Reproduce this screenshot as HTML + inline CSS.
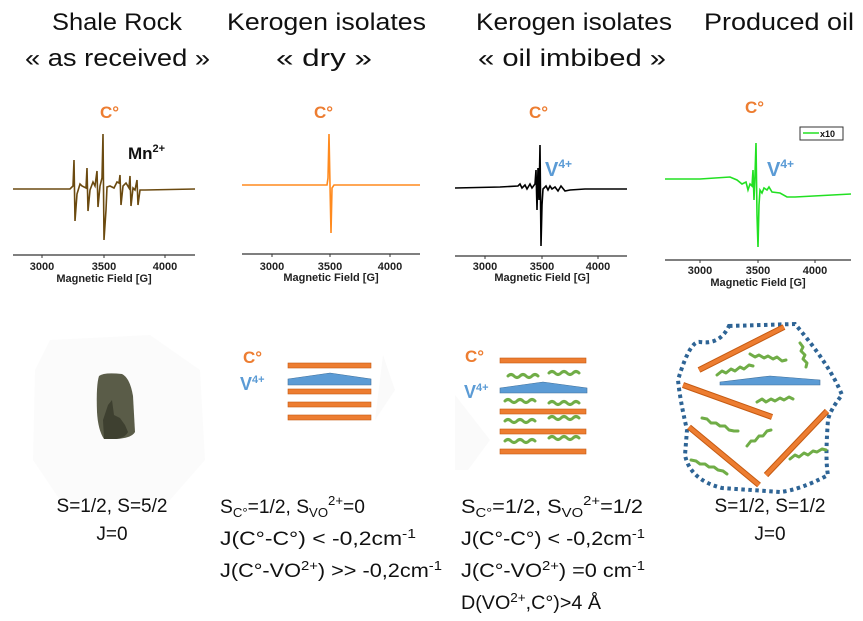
<!DOCTYPE html>
<html><head><meta charset="utf-8"><style>
html,body{margin:0;padding:0;background:#fff}
svg{display:block}
text{font-family:"Liberation Sans",sans-serif}
.t{font-size:24px;fill:#111}
.c{font-size:17px;font-weight:bold;fill:#ED7D31}
.ax{font-size:11px;font-weight:bold;fill:#222}
.b{font-size:19px;fill:#111}
</style></head><body>
<svg width="863" height="621" viewBox="0 0 863 621" xmlns="http://www.w3.org/2000/svg">
<!-- titles -->
<text class="t" x="52" y="30" textLength="130" lengthAdjust="spacingAndGlyphs">Shale Rock</text>
<text class="t" x="25" y="66" textLength="185" lengthAdjust="spacingAndGlyphs">« as received  »</text>
<text class="t" x="227" y="30" textLength="199" lengthAdjust="spacingAndGlyphs">Kerogen isolates</text>
<text class="t" x="276" y="66" textLength="96" lengthAdjust="spacingAndGlyphs">« dry  »</text>
<text class="t" x="476" y="30" textLength="196" lengthAdjust="spacingAndGlyphs">Kerogen isolates</text>
<text class="t" x="478" y="66" textLength="188" lengthAdjust="spacingAndGlyphs">« oil imbibed  »</text>
<text class="t" x="704" y="30" textLength="150" lengthAdjust="spacingAndGlyphs">Produced oil</text>

<!-- C° labels -->
<text class="c" x="100" y="118">C°</text>
<text class="c" x="314" y="118">C°</text>
<text class="c" x="529" y="118">C°</text>
<text class="c" x="745" y="113">C°</text>

<!-- Plot 1 -->
<line x1="13" y1="255" x2="195" y2="255" stroke="#333" stroke-width="1.2"/>
<g stroke="#333"><line x1="42" y1="255" x2="42" y2="258"/><line x1="104" y1="255" x2="104" y2="258"/><line x1="165" y1="255" x2="165" y2="258"/></g>
<text class="ax" x="42" y="270" text-anchor="middle">3000</text>
<text class="ax" x="104" y="270" text-anchor="middle">3500</text>
<text class="ax" x="165" y="270" text-anchor="middle">4000</text>
<text class="ax" x="104" y="282" text-anchor="middle">Magnetic Field [G]</text>
<polyline fill="none" stroke="#6B4A10" stroke-width="1.6" points="13,189 70,189 73,186 74,160 75,221 77,194 80,184 82,186 86,188 87,168 88,211 90,190 93,182 95,186 97,171 98,207 100,186 102,178 103,134 104,240 106,210 107,187 110,186 114,188 117,182 119,183 120,175 121,205 123,186 126,183 129,188 130,176 131,206 133,188 135,190 137,180 138,205 140,190 145,190 195,189"/>
<text x="128" y="159" font-size="17" font-weight="bold" fill="#111">Mn<tspan dy="-7" font-size="11">2+</tspan></text>

<!-- Plot 2 -->
<line x1="242" y1="254" x2="420" y2="254" stroke="#333" stroke-width="1.2"/>
<g stroke="#333"><line x1="272" y1="254" x2="272" y2="257"/><line x1="330" y1="254" x2="330" y2="257"/><line x1="390" y1="254" x2="390" y2="257"/></g>
<text class="ax" x="272" y="270" text-anchor="middle">3000</text>
<text class="ax" x="330" y="270" text-anchor="middle">3500</text>
<text class="ax" x="390" y="270" text-anchor="middle">4000</text>
<text class="ax" x="331" y="281" text-anchor="middle">Magnetic Field [G]</text>
<polyline fill="none" stroke="#FF8A1E" stroke-width="1.6" points="242,185 327,185 328,178 329,134 330,185 331,233 332,188 334,185 420,185"/>

<!-- Plot 3 -->
<line x1="455" y1="256" x2="627" y2="256" stroke="#333" stroke-width="1.2"/>
<g stroke="#333"><line x1="485" y1="256" x2="485" y2="259"/><line x1="542" y1="256" x2="542" y2="259"/><line x1="598" y1="256" x2="598" y2="259"/></g>
<text class="ax" x="485" y="270" text-anchor="middle">3000</text>
<text class="ax" x="542" y="270" text-anchor="middle">3500</text>
<text class="ax" x="598" y="270" text-anchor="middle">4000</text>
<text class="ax" x="542" y="281" text-anchor="middle">Magnetic Field [G]</text>
<polyline fill="none" stroke="#000" stroke-width="1.6" points="455,188 500,187 518,186 520,184 522,188 525,185 527,189 530,184 532,188 535,184 536,170 537,210 538,168 539,200 540,145 541,246 542,205 543,189 546,186 548,190 550,186 552,189 555,187 558,191 561,186 565,191 570,190 585,189 627,189"/>
<text x="545" y="176" font-size="20" font-weight="bold" fill="#5B9BD5">V<tspan dy="-8" font-size="12">4+</tspan></text>

<!-- Plot 4 -->
<line x1="665" y1="260" x2="851" y2="260" stroke="#333" stroke-width="1.2"/>
<g stroke="#333"><line x1="700" y1="260" x2="700" y2="263"/><line x1="758" y1="260" x2="758" y2="263"/><line x1="815" y1="260" x2="815" y2="263"/></g>
<text class="ax" x="700" y="274" text-anchor="middle">3000</text>
<text class="ax" x="758" y="274" text-anchor="middle">3500</text>
<text class="ax" x="815" y="274" text-anchor="middle">4000</text>
<text class="ax" x="758" y="286" text-anchor="middle">Magnetic Field [G]</text>
<polyline fill="none" stroke="#22E022" stroke-width="1.6" points="665,179 700,179 730,177 737,180 742,184 746,182 748,190 750,184 752,186 753,170 754,200 755,175 756,143 757,215 758,247 759,205 760,190 762,193 764,188 767,190 769,187 772,192 780,193 787,197 795,197 851,194"/>
<rect x="800" y="127" width="43" height="13" fill="#fff" stroke="#333" stroke-width="1"/>
<line x1="803" y1="133" x2="819" y2="133" stroke="#22E022" stroke-width="1.5"/>
<text x="820" y="137" font-size="9" font-weight="bold" fill="#111">x10</text>
<text x="767" y="176" font-size="20" font-weight="bold" fill="#5B9BD5">V<tspan dy="-8" font-size="12">4+</tspan></text>

<!-- Rock -->
<polygon points="50,340 150,335 200,370 205,460 170,500 60,500 33,460 35,370" fill="#fbfbfb"/>
<path d="M99,376 Q104,372 122,374 Q130,378 133,396 L135,432 Q132,438 116,439 L104,439 Q98,430 97,412 Q96,385 99,376Z" fill="#5a5c48"/>
<path d="M104,439 L103,420 L108,405 L112,400 L114,415 L120,418 L125,425 L128,432 Q125,438 116,439Z" fill="#3e4030"/>

<!-- Dry stack -->
<text x="243" y="363" font-size="17" font-weight="bold" fill="#ED7D31">C°</text>
<text x="240" y="390" font-size="18" font-weight="bold" fill="#5B9BD5">V<tspan dy="-7" font-size="11">4+</tspan></text>
<polygon points="383,355 395,390 375,420" fill="#fafafa"/>
<g fill="#ED7D31" stroke="#C55A11" stroke-width="0.6">
<rect x="288" y="363" width="83" height="5"/>
<rect x="288" y="389" width="83" height="5"/>
<rect x="288" y="402" width="83" height="5"/>
<rect x="288" y="415" width="83" height="5"/>
</g>
<polygon points="288,379 330,373 371,379 371,385 288,385" fill="#5B9BD5" stroke="#41719C" stroke-width="0.6"/>

<!-- Oil imbibed stack -->
<text x="465" y="362" font-size="17" font-weight="bold" fill="#ED7D31">C°</text>
<text x="464" y="398" font-size="18" font-weight="bold" fill="#5B9BD5">V<tspan dy="-7" font-size="11">4+</tspan></text>
<polygon points="455,395 490,440 468,470 455,470" fill="#fafafa"/>
<g fill="#ED7D31" stroke="#C55A11" stroke-width="0.6">
<rect x="500" y="358" width="86" height="5"/>
<rect x="500" y="409" width="86" height="5"/>
<rect x="500" y="429" width="86" height="5"/>
<rect x="500" y="449" width="86" height="5"/>
</g>
<polygon points="500,388 543,382 587,388 587,393 500,393" fill="#5B9BD5" stroke="#41719C" stroke-width="0.6"/>
<g fill="none" stroke="#70AD47" stroke-width="3" stroke-linecap="round">
<path d="M508,376 q3,-3 6,0 t6,0 t6,0 t6,0 t6,0"/>
<path d="M549,373 q3,-3 6,0 t6,0 t6,0 t6,0 t6,0"/>
<path d="M505,401 q3,-3 6,0 t6,0 t6,0 t6,0 t6,0"/>
<path d="M549,403 q3,-3 6,0 t6,0 t6,0 t6,0 t6,0"/>
<path d="M505,421 q3,-3 6,0 t6,0 t6,0 t6,0 t6,0"/>
<path d="M549,418 q3,-3 6,0 t6,0 t6,0 t6,0 t6,0"/>
<path d="M505,441 q3,-3 6,0 t6,0 t6,0 t6,0 t6,0"/>
<path d="M549,438 q3,-3 6,0 t6,0 t6,0 t6,0 t6,0"/>
</g>

<!-- Produced oil -->
<path d="M729,326 L795,324 Q830,365 842,395 Q830,410 828,420 Q825,460 828,475 Q800,490 780,492 L722,488 Q690,480 685,455 L687,430 Q680,400 678,380 Q690,340 700,342 Q720,345 729,326Z" fill="none" stroke="#2E6495" stroke-width="4" stroke-dasharray="3.5 3.5"/>
<g stroke="#C55A11" stroke-width="6"><line x1="699" y1="370" x2="784" y2="327"/><line x1="683" y1="385" x2="772" y2="417"/><line x1="689" y1="427" x2="759" y2="485"/><line x1="766" y1="475" x2="827" y2="411"/></g>
<g stroke="#ED7D31" stroke-width="4"><line x1="699" y1="370" x2="784" y2="327"/><line x1="683" y1="385" x2="772" y2="417"/><line x1="689" y1="427" x2="759" y2="485"/><line x1="766" y1="475" x2="827" y2="411"/></g>
<polygon points="720,382 770,376 820,380 820,385 720,385" fill="#5B9BD5" stroke="#41719C" stroke-width="0.6"/>
<g fill="none" stroke="#70AD47" stroke-width="3" stroke-linecap="round" stroke-linejoin="round">
<polyline points="750,354 755,357 759,355 764,358 768,356 773,359 777,357 782,361 786,360"/>
<polyline points="717,375 722,371 726,373 731,369 735,371 740,367 744,369 749,365 753,366"/>
<polyline points="800,343 803,347 801,351 805,355 803,359 807,363 806,367"/>
<polyline points="757,402 762,399 766,402 771,399 775,401 780,398 784,400 789,397 793,399"/>
<polyline points="702,418 707,419 711,423 716,423 720,426 725,426 729,430 734,431 738,431"/>
<polyline points="747,446 751,441 755,441 759,436 763,436 767,431 771,430"/>
<polyline points="790,459 795,455 799,457 804,453 808,455 813,451 817,452 822,449 826,450"/>
<polyline points="691,460 696,461 700,464 705,464 709,467 714,467 718,470 723,471 727,474"/>
</g>

<!-- bottom text -->
<text class="b" x="112" y="512" text-anchor="middle">S=1/2, S=5/2</text>
<text class="b" x="112" y="540" text-anchor="middle">J=0</text>
<text class="b" x="770" y="512" text-anchor="middle">S=1/2, S=1/2</text>
<text class="b" x="770" y="540" text-anchor="middle">J=0</text>

<text class="b" x="220" y="513" textLength="145" lengthAdjust="spacingAndGlyphs">S<tspan font-size="13" dy="4">C°</tspan><tspan dy="-4">=1/2, S</tspan><tspan font-size="13" dy="4">VO</tspan><tspan font-size="13" dy="-12">2+</tspan><tspan dy="8">=0</tspan></text>
<text class="b" x="220" y="545" textLength="196" lengthAdjust="spacingAndGlyphs">J(C°-C°) &lt; -0,2cm<tspan font-size="13" dy="-7">-1</tspan></text>
<text class="b" x="220" y="577" textLength="222" lengthAdjust="spacingAndGlyphs">J(C°-VO<tspan font-size="13" dy="-7">2+</tspan><tspan dy="7">) &gt;&gt; -0,2cm</tspan><tspan font-size="13" dy="-7">-1</tspan></text>

<text class="b" x="461" y="513" textLength="182" lengthAdjust="spacingAndGlyphs">S<tspan font-size="13" dy="4">C°</tspan><tspan dy="-4">=1/2, S</tspan><tspan font-size="13" dy="4">VO</tspan><tspan font-size="13" dy="-12">2+</tspan><tspan dy="8">=1/2</tspan></text>
<text class="b" x="461" y="545" textLength="184" lengthAdjust="spacingAndGlyphs">J(C°-C°) &lt; -0,2cm<tspan font-size="13" dy="-7">-1</tspan></text>
<text class="b" x="461" y="577" textLength="184" lengthAdjust="spacingAndGlyphs">J(C°-VO<tspan font-size="13" dy="-7">2+</tspan><tspan dy="7">) =0 cm</tspan><tspan font-size="13" dy="-7">-1</tspan></text>
<text class="b" x="461" y="609" textLength="140" lengthAdjust="spacingAndGlyphs">D(VO<tspan font-size="13" dy="-7">2+</tspan><tspan dy="7">,C°)&gt;4 Å</tspan></text>
</svg>
</body></html>
